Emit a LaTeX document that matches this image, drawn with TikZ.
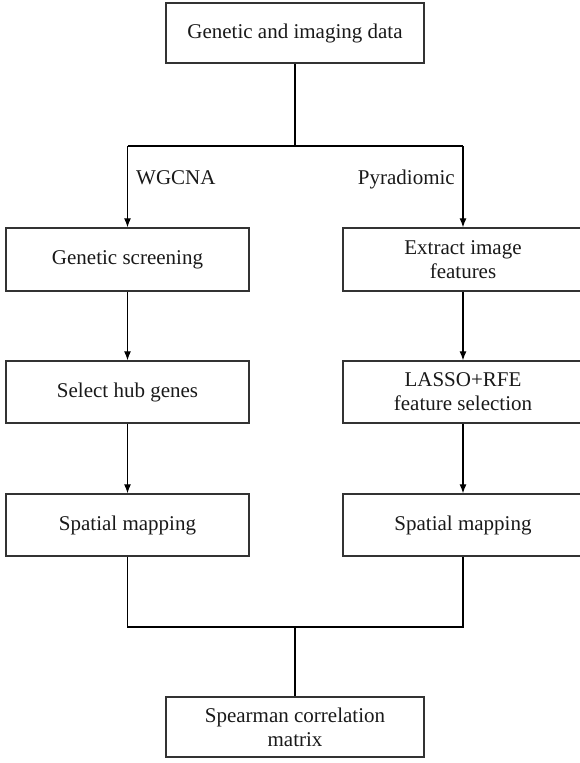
\documentclass[tikz,border=0pt]{standalone}
\usepackage{fontspec}
\setmainfont{Liberation Serif}
\usetikzlibrary{arrows.meta}
\begin{document}
\begin{tikzpicture}[x=1pt,y=-1pt,
  box/.style={draw=black!80,line width=1.4pt,rectangle,align=center,inner sep=0pt,
    font=\fontsize{21}{24}\selectfont,text=black!90},
  conn/.style={draw=black,line width=1.1pt},
  arr/.style={conn,-{Latex[length=9pt,width=7pt]}},
  lbl/.style={font=\fontsize{21}{24}\selectfont,text=black!90,inner sep=0pt}]
\useasboundingbox (0,0) rectangle (580,763);
\node[box,minimum width=258pt,minimum height=60pt] (top) at (295,33) {Genetic and imaging data};
\node[box,minimum width=243pt,minimum height=63pt] (g1) at (127.5,259.5) {Genetic screening};
\node[box,minimum width=243pt,minimum height=62pt] (g2) at (127.5,392) {Select hub genes};
\node[box,minimum width=243pt,minimum height=62pt] (g3) at (127.5,525) {Spatial mapping};
\node[box,minimum width=240pt,minimum height=63pt] (r1) at (463,259.5) {Extract image\\features};
\node[box,minimum width=240pt,minimum height=62pt] (r2) at (463,392) {LASSO+RFE\\feature selection};
\node[box,minimum width=240pt,minimum height=62pt] (r3) at (463,525) {Spatial mapping};
\node[box,minimum width=258pt,minimum height=60pt] (bot) at (295,727) {Spearman correlation\\matrix};
\coordinate (split) at (295,146);
\coordinate (lt) at (127.5,146);
\coordinate (rt) at (463,146);
\coordinate (lb) at (127.5,627);
\coordinate (rb) at (463,627);
\coordinate (join) at (295,627);
\draw[conn,line width=1.6pt] (top.south) -- (split);
\draw[conn] (lt) -- (rt);
\draw[arr] (lt) -- (g1.north);
\draw[arr] (rt) -- (r1.north);
\draw[arr] (g1.south) -- (g2.north);
\draw[arr] (g2.south) -- (g3.north);
\draw[arr] (r1.south) -- (r2.north);
\draw[arr] (r2.south) -- (r3.north);
\draw[conn] (g3.south) -- (lb) -- (rb) -- (r3.south);
\draw[conn] (join) -- (bot.north);
\node[lbl,anchor=base west] (wg) at (136,184) {WGCNA};
\node[lbl,anchor=base east] (py) at (455,184) {Pyradiomic};
\end{tikzpicture}
\end{document}
